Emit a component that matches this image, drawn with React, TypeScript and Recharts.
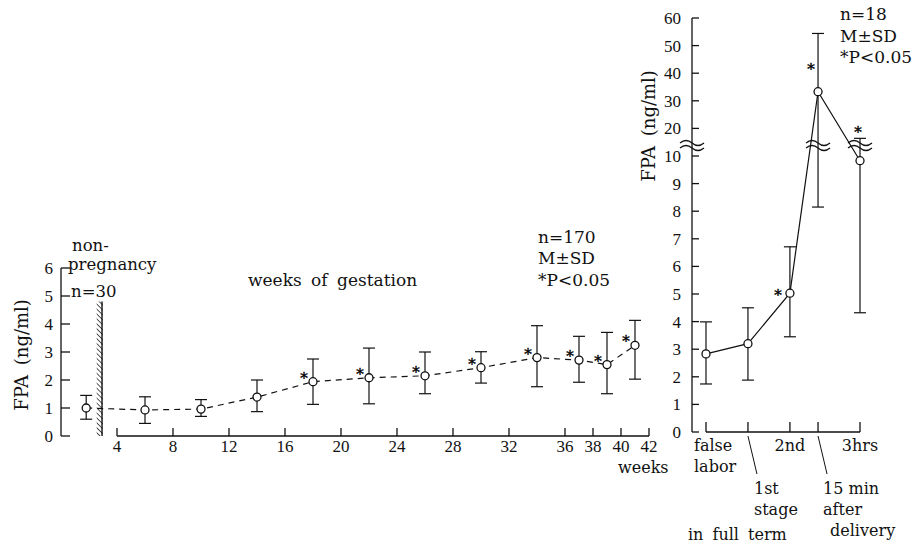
import { LineChart, Line, XAxis, YAxis, ErrorBar, ReferenceArea, ReferenceLine, ReferenceDot } from 'recharts';

const TICK_FONT = '"Liberation Serif", "Times New Roman", serif';
const TEXT_FONT = '"DejaVu Serif", serif';
const INK = '#111';

// left panel: weeks of gestation (first point = non-pregnancy group)
const gestWeeks = [1.8, 6, 10, 14, 18, 22, 26, 30, 34, 37, 39, 41];
const gestMean = [1.0, 0.93, 0.96, 1.39, 1.94, 2.08, 2.15, 2.44, 2.8, 2.71, 2.55, 3.24];
const gestHigh = [1.45, 1.4, 1.3, 2.0, 2.75, 3.14, 3.0, 3.01, 3.94, 3.56, 3.7, 4.13];
const gestLow = [0.6, 0.45, 0.7, 0.87, 1.13, 1.15, 1.51, 1.89, 1.76, 1.92, 1.51, 2.03];
const gestSig = [false, false, false, false, true, true, true, true, true, true, true, true];
const weekTicks = [4, 8, 12, 16, 20, 24, 28, 32, 36, 38, 40, 42];
const gestFpaTicks = [0, 1, 2, 3, 4, 5, 6];
const nonPregBar = { from: 2.55, to: 2.98, top: 4.8 };

// right panel: labor in full term
const stageLabels = [['false', 'labor'], ['1st', 'stage'], ['2nd'], ['15 min', 'after', 'delivery'], ['3hrs']];
const stagePos = [0, 1, 2, 2.67, 3.67];
const laborMean = [2.83, 3.2, 5.03, 33.3, 9.83];
const laborHigh = [3.99, 4.5, 6.71, 54.4, 16.4];
const laborLow = [1.74, 1.88, 3.45, 8.15, 4.32];
const laborSig = [false, false, true, true, true];
const laborFpaTicks = [0, 1, 2, 3, 4, 5, 6, 7, 8, 9, 10, 20, 30, 40, 50, 60];
const breakAt = 10.4;

// broken axis: 0-10 full scale, above 10 one tenth
const squash = (v: number) => (v <= 10 ? v : 10 + (v - 10) / 10);
const unsquash = (t: number) => (t <= 10 ? t : 10 + (t - 10) * 10);

const gestData = gestWeeks.map((w, i) => ({
  week: w,
  fpa: gestMean[i],
  sd: [gestMean[i] - gestLow[i], gestHigh[i] - gestMean[i]],
  sig: gestSig[i],
}));

const laborData = stagePos.map((p, i) => {
  const m = squash(laborMean[i]);
  return {
    pos: p,
    fpa: m,
    sd: [m - squash(laborLow[i]), squash(laborHigh[i]) - m],
    sig: laborSig[i],
  };
});

const laborStarShift: [number, number][] = [[0, 0], [0, 0], [-12, -2], [-7, -27], [-2, -33]];

const stageTickLayout = [
  { dx: -12, y0: 19, anchor: 'start', leader: false, indent: [0, 0] },
  { dx: 6, y0: 62, anchor: 'start', leader: true, indent: [0, 0] },
  { dx: 0, y0: 19, anchor: 'middle', leader: false, indent: [0] },
  { dx: 5, y0: 62, anchor: 'start', leader: true, indent: [0, 0, 7] },
  { dx: 0, y0: 19, anchor: 'middle', leader: false, indent: [0] },
];

const yTick = (len: number, gap: number, fmt: (v: number) => string) => (props: any) => {
  const { x, y, payload } = props;
  return (
    <g>
      <line x1={x} y1={y} x2={x + len} y2={y} stroke={INK} strokeWidth={1.3} />
      <text x={x - gap} y={y + 6} textAnchor="end" fontFamily={TICK_FONT} fontSize={17} fill={INK}>
        {fmt(payload.value)}
      </text>
    </g>
  );
};

const weekTick = (props: any) => {
  const { x, y, payload } = props;
  return (
    <g>
      <line x1={x} y1={y - 8} x2={x} y2={y} stroke={INK} strokeWidth={1.3} />
      <text x={x} y={y + 16} textAnchor="middle" fontFamily={TICK_FONT} fontSize={17} fill={INK}>
        {payload.value}
      </text>
    </g>
  );
};

const stageTick = (props: any) => {
  const { x, y, payload } = props;
  const i = stagePos.indexOf(payload.value);
  if (i < 0) return <g />;
  const lay = stageTickLayout[i];
  return (
    <g>
      <line x1={x} y1={y - 10} x2={x} y2={y} stroke={INK} strokeWidth={1.3} />
      {lay.leader && <line x1={x} y1={y + 4} x2={x + 9} y2={y + 42} stroke={INK} strokeWidth={1} />}
      {stageLabels[i].map((s, k) => (
        <text
          key={k}
          x={x + lay.dx + (lay.indent[k] || 0)}
          y={y + lay.y0 + k * 21}
          textAnchor={lay.anchor as any}
          fontFamily={TEXT_FONT}
          fontSize={16}
          fill={INK}
        >
          {s}
        </text>
      ))}
    </g>
  );
};

// open circle, plus an asterisk where the point is significant
const markDot = (shift: (i: number) => [number, number]) => (props: any) => {
  const { cx, cy, payload, index } = props;
  if (cx == null || cy == null) return <g key={`d${index}`} />;
  const [dx, dy] = shift(index);
  return (
    <g key={`d${index}`}>
      <circle cx={cx} cy={cy} r={4} fill="#fff" stroke={INK} strokeWidth={1.3} />
      {payload.sig && (
        <text
          x={cx + dx}
          y={cy + dy + 9}
          textAnchor="middle"
          fontFamily={TEXT_FONT}
          fontSize={15}
          fill="#000"
          stroke="#000"
          strokeWidth={0.4}
        >
          *
        </text>
      )}
    </g>
  );
};

const breakMark = (props: any) => {
  const { cx, cy } = props;
  const w = (yy: number) => `M${cx - 12},${yy} q6,-5 12,0 t12,0`;
  return (
    <g>
      <path d={w(cy - 2)} fill="none" stroke={INK} strokeWidth={1.3} />
      <path d={w(cy + 3)} fill="none" stroke={INK} strokeWidth={1.3} />
    </g>
  );
};

const txt = (x: number, y: number, s: string, extra: any = {}) => (
  <text x={x} y={y} fontFamily={TEXT_FONT} fontSize={17} fill={INK} {...extra}>
    {s}
  </text>
);

export default function App() {
  return (
    <div style={{ position: 'absolute', left: 0, top: 0, width: 917, height: 545, background: '#fff' }}>
      <svg width={917} height={545} style={{ position: 'absolute', left: 0, top: 0 }}>
        <defs>
          <pattern id="hatch" width="3.5" height="3.5" patternUnits="userSpaceOnUse" patternTransform="rotate(-45)">
            <line x1="0" y1="0" x2="0" y2="3.5" stroke={INK} strokeWidth="1.4" />
          </pattern>
        </defs>
      </svg>

      <div style={{ position: 'absolute', left: 0, top: 0 }}>
        <LineChart width={917} height={545} data={gestData} margin={{ top: 268, left: 21, right: 268, bottom: 79 }}>
          <ReferenceArea
            x1={nonPregBar.from}
            x2={nonPregBar.to}
            y1={0}
            y2={nonPregBar.top}
            fill="url(#hatch)"
            fillOpacity={1}
            stroke="none"
          />
          <ReferenceArea
            x1={nonPregBar.to - 0.1}
            x2={nonPregBar.to}
            y1={0}
            y2={nonPregBar.top}
            fill={INK}
            fillOpacity={1}
            stroke="none"
          />
          <ReferenceLine segment={[{ x: 4, y: 0 }, { x: 42, y: 0 }]} stroke={INK} strokeWidth={1.3} />
          <XAxis
            dataKey="week"
            type="number"
            domain={[0, 42]}
            ticks={weekTicks}
            axisLine={false}
            tickLine={false}
            tickSize={0}
            tickMargin={0}
            tick={weekTick}
            height={30}
          />
          <YAxis
            type="number"
            domain={[0, 6]}
            ticks={gestFpaTicks}
            axisLine={{ stroke: INK, strokeWidth: 1.3 }}
            tickLine={false}
            tickSize={0}
            tickMargin={0}
            tick={yTick(9, 8, (v) => String(v))}
            width={40}
          />
          <Line
            type="linear"
            dataKey="fpa"
            stroke={INK}
            strokeWidth={1.2}
            strokeDasharray="6 5"
            dot={markDot(() => [-9, -8])}
            activeDot={false}
            isAnimationActive={false}
          >
            <ErrorBar dataKey="sd" direction="y" width={6} stroke={INK} strokeWidth={1.2} />
          </Line>
        </LineChart>
      </div>

      <div style={{ position: 'absolute', left: 0, top: 0 }}>
        <LineChart width={917} height={545} data={laborData} margin={{ top: 18, left: 652, right: 57, bottom: 83 }}>
          <ReferenceLine segment={[{ x: 0, y: 0 }, { x: 3.67, y: 0 }]} stroke={INK} strokeWidth={1.3} />
          <XAxis
            dataKey="pos"
            type="number"
            domain={[-1 / 3, 3.67]}
            ticks={stagePos}
            axisLine={false}
            tickLine={false}
            tickSize={0}
            tickMargin={0}
            tick={stageTick}
            height={30}
          />
          <YAxis
            type="number"
            domain={[0, 15]}
            ticks={laborFpaTicks.map(squash)}
            axisLine={{ stroke: INK, strokeWidth: 1.3 }}
            tickLine={false}
            tickSize={0}
            tickMargin={0}
            tick={yTick(7, 11, (v) => String(Math.round(unsquash(v))))}
            width={40}
          />
          <Line
            type="linear"
            dataKey="fpa"
            stroke={INK}
            strokeWidth={1.2}
            dot={markDot((i) => laborStarShift[i])}
            activeDot={false}
            isAnimationActive={false}
          >
            <ErrorBar dataKey="sd" direction="y" width={6} stroke={INK} strokeWidth={1.2} />
          </Line>
          <ReferenceDot x={-1 / 3} y={breakAt} shape={breakMark} ifOverflow="visible" />
          <ReferenceDot x={stagePos[3]} y={breakAt} shape={breakMark} ifOverflow="visible" />
          <ReferenceDot x={stagePos[4]} y={breakAt} shape={breakMark} ifOverflow="visible" />
        </LineChart>
      </div>

      <svg width={917} height={545} style={{ position: 'absolute', left: 0, top: 0, pointerEvents: 'none' }}>
        <text x={28} y={355} transform="rotate(-90 28 355)" textAnchor="middle" fontFamily={TEXT_FONT} fontSize={18} fill={INK} wordSpacing={4}>
          FPA (ng/ml)
        </text>
        <text x={655} y={126} transform="rotate(-90 655 126)" textAnchor="middle" fontFamily={TEXT_FONT} fontSize={18} fill={INK} wordSpacing={4}>
          FPA (ng/ml)
        </text>
        {txt(72, 251, 'non-', { fontSize: 16.5 })}
        {txt(68, 270, 'pregnancy', { fontSize: 16.5 })}
        {txt(71, 297, 'n=30', { fontSize: 16.5 })}
        {txt(248, 286, 'weeks of gestation', { wordSpacing: 4 })}
        {txt(538, 243, 'n=170')}
        {txt(538, 264, 'M±SD')}
        {txt(538, 286, '*P<0.05')}
        {txt(618, 473, 'weeks', { fontSize: 16 })}
        {txt(840, 20, 'n=18')}
        {txt(840, 42, 'M±SD')}
        {txt(840, 63, '*P<0.05')}
        {txt(688, 540, 'in full term', { fontSize: 16, wordSpacing: 4 })}
      </svg>
    </div>
  );
}
